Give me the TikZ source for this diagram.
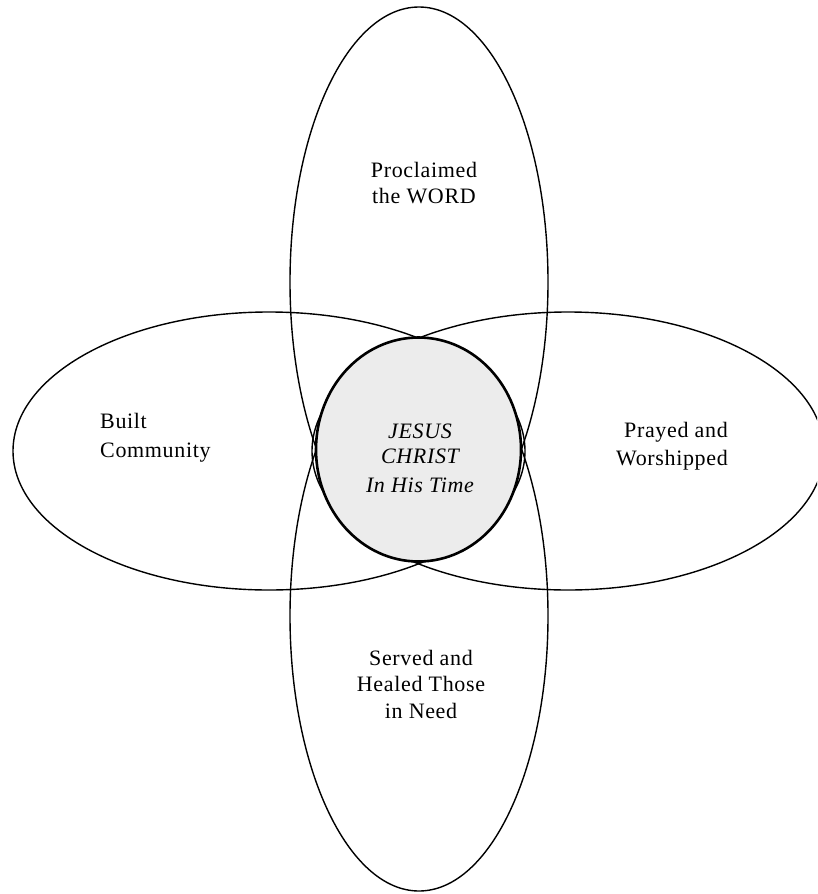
\documentclass[tikz,border=0pt]{standalone}
\usepackage{fontspec}
\setmainfont{Liberation Serif}[LetterSpace=3.0]
\usetikzlibrary{shapes.geometric}
\begin{document}
\begin{tikzpicture}[x=1pt,y=-1pt,
  petal/.style={ellipse,draw=black,line width=1.4pt,inner sep=0pt,outer sep=0pt},
  core/.style={ellipse,draw=black,line width=2.6pt,fill=gray!15,inner sep=0pt,outer sep=0pt},
  lbl/.style={inner sep=0pt,font=\fontsize{22}{27}\selectfont}]
\useasboundingbox (0,0) rectangle (817,894);
\fill[white] (0,0) rectangle (817,894);
\begin{scope}
  \clip (0,0) rectangle (817,894);
  \node[petal,minimum width=258pt,minimum height=550pt] (ptop) at (419,282) {};
  \node[petal,minimum width=258pt,minimum height=550pt] (pbot) at (419,616) {};
  \node[petal,minimum width=512pt,minimum height=278pt] (pleft) at (269,451) {};
  \node[petal,minimum width=512pt,minimum height=278pt] (pright) at (568,451) {};
  \node[core,minimum width=205pt,minimum height=224pt] (center) at (418.5,449.5) {};
\end{scope}
% top petal text
\node[lbl,anchor=base] (t1) at (424,177) {Proclaimed};
\node[lbl,anchor=base] (t2) at (424,203) {the WORD};
% left petal text
\node[lbl,anchor=base west] (l1) at (100,428) {Built};
\node[lbl,anchor=base west] (l2) at (100,457) {Community};
% right petal text
\node[lbl,anchor=base east] (r1) at (728,437) {Prayed and};
\node[lbl,anchor=base east] (r2) at (728,465) {Worshipped};
% centre text
\node[lbl,anchor=base,font=\fontsize{22}{27}\selectfont\itshape] (c1) at (420,438) {JESUS};
\node[lbl,anchor=base,font=\fontsize{22}{27}\selectfont\itshape] (c2) at (420,463) {CHRIST};
\node[lbl,anchor=base,font=\fontsize{22}{27}\selectfont\itshape] (c3) at (420,492) {In His Time};
% bottom petal text
\node[lbl,anchor=base] (b1) at (421,665) {Served and};
\node[lbl,anchor=base] (b2) at (421,691) {Healed Those};
\node[lbl,anchor=base] (b3) at (421,718) {in Need};
\end{tikzpicture}
\end{document}
